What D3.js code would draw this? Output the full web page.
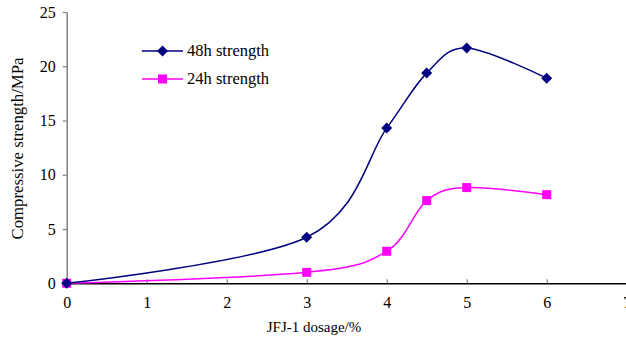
<!DOCTYPE html>
<html><head><meta charset="utf-8">
<script src="https://cdn.jsdelivr.net/npm/d3@7"></script>
<style>html,body{margin:0;padding:0;background:#fff;}svg{display:block;}</style>
</head><body>
<svg id="chart" width="626" height="339"></svg>
<script>
const dosage = [0, 3, 4, 4.5, 5, 6];
const strength48h = [0, 4.24, 14.3, 19.37, 21.68, 18.9];
const strength24h = [0, 1.01, 2.95, 7.62, 8.82, 8.17];
const xTicks = [0, 1, 2, 3, 4, 5, 6, 7];
const yTicks = [0, 5, 10, 15, 20, 25];
const seriesNames = ["48h strength", "24h strength"];

const svg = d3.select("#chart");
const font = "'Liberation Serif','Times New Roman',serif";
const x = d3.scaleLinear().domain([0, 7]).range([66.7, 626.7]);
const y = d3.scaleLinear().domain([0, 25]).range([283.3, 12]);

// y axis
const gy = svg.append("g").attr("transform", `translate(${x(0)},0)`)
  .call(d3.axisLeft(y).tickValues(yTicks).tickFormat(d3.format("d")).tickSize(4).tickSizeOuter(0).tickPadding(7));
gy.select(".domain").attr("stroke", "#808080").attr("stroke-width", 1.5);
gy.selectAll(".tick line").attr("stroke", "#808080").attr("stroke-width", 1.2);
gy.selectAll(".tick text").attr("font-family", font).attr("font-size", 16).attr("fill", "#000");

// x axis
const gx = svg.append("g").attr("transform", `translate(0,${y(0)})`)
  .call(d3.axisBottom(x).tickValues(xTicks).tickFormat(d3.format("d")).tickSize(0).tickPadding(13));
gx.select(".domain").attr("stroke", "#000").attr("stroke-width", 1.5);
gx.selectAll(".tick text").attr("font-family", font).attr("font-size", 16).attr("fill", "#000");
gx.selectAll(".tick").append("line").attr("y1", 0).attr("y2", -4).attr("stroke", "#808080").attr("stroke-width", 1.2);

svg.append("text").attr("x", 314).attr("y", 332).attr("text-anchor", "middle")
  .attr("font-family", font).attr("font-size", 15).text("JFJ-1 dosage/%");
svg.append("text").attr("transform", "translate(23,148.5) rotate(-90)").attr("text-anchor", "middle")
  .attr("font-family", font).attr("font-size", 16)
  .attr("textLength", 182).attr("lengthAdjust", "spacingAndGlyphs").text("Compressive strength/MPa");

const line = d3.line().x(d => x(d[0])).y(d => y(d[1])).curve(d3.curveCardinal.tension(0));
const d48 = dosage.map((d, i) => [d, strength48h[i]]);
const d24 = dosage.map((d, i) => [d, strength24h[i]]);

svg.append("path").datum(d24).attr("d", line).attr("fill", "none").attr("stroke", "#FF00FF").attr("stroke-width", 1.5);
svg.append("path").datum(d48).attr("d", line).attr("fill", "none").attr("stroke", "#000080").attr("stroke-width", 1.5);

const sq = d3.symbol().type(d3.symbolSquare).size(81);
const dm = "M0,-5.5L5.5,0L0,5.5L-5.5,0Z";
svg.selectAll(".m24").data(d24).join("path").attr("class", "m24")
  .attr("transform", d => `translate(${x(d[0])},${y(d[1])})`).attr("d", sq).attr("fill", "#FF00FF");
svg.selectAll(".m48").data(d48).join("path").attr("class", "m48")
  .attr("transform", d => `translate(${x(d[0])},${y(d[1])})`).attr("d", dm).attr("fill", "#000080");

// legend
const leg = [{name: seriesNames[0], color: "#000080", sym: dm, y: 51}, {name: seriesNames[1], color: "#FF00FF", sym: sq(), y: 79}];
leg.forEach(l => {
  svg.append("line").attr("x1", 142).attr("x2", 183).attr("y1", l.y).attr("y2", l.y).attr("stroke", l.color).attr("stroke-width", 1.5);
  svg.append("path").attr("transform", `translate(162.5,${l.y})`).attr("d", l.sym).attr("fill", l.color);
  svg.append("text").attr("x", 187).attr("y", l.y + 5).attr("font-family", font).attr("font-size", 16.5).text(l.name);
});
</script>
</body></html>
